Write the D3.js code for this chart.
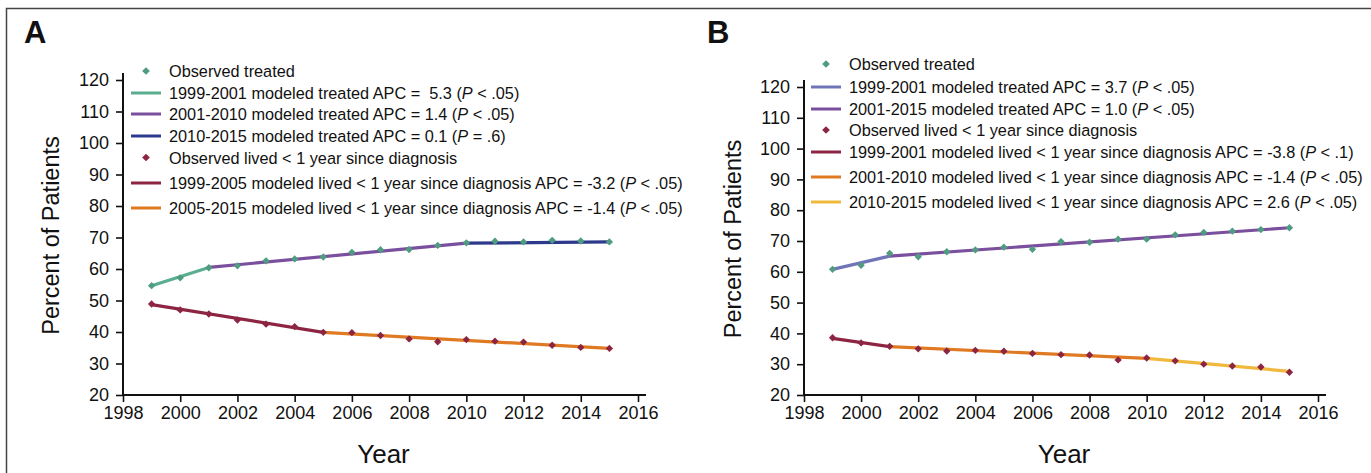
<!DOCTYPE html>
<html>
<head>
<meta charset="utf-8">
<script src="https://cdn.jsdelivr.net/npm/d3@7"></script>
<style>
  html, body { margin: 0; padding: 0; background: #fff; }
  svg { display: block; }
  text { font-family: "Liberation Sans", Arial, sans-serif; fill: #111; }
</style>
</head>
<body>
<svg id="chart" width="1371" height="473"></svg>
<script>
// ---------------- DATA ----------------
const years = [1999, 2000, 2001, 2002, 2003, 2004, 2005, 2006, 2007, 2008, 2009, 2010, 2011, 2012, 2013, 2014, 2015];
const xTicks = [1998, 2000, 2002, 2004, 2006, 2008, 2010, 2012, 2014, 2016];
const yTicks = [20, 30, 40, 50, 60, 70, 80, 90, 100, 110, 120];

// Panel A
const aTreated = [54.7, 57.2, 60.4, 61.0, 62.6, 63.2, 63.8, 65.3, 66.1, 66.2, 67.5, 68.3, 68.8, 68.6, 69.1, 68.9, 68.6];
const aLived   = [48.9, 47.0, 45.7, 43.8, 42.5, 41.7, 39.9, 39.8, 38.9, 37.8, 36.9, 37.6, 37.1, 36.8, 35.8, 35.1, 34.8];
const aTreatedJoinYears = [1999, 2001, 2010, 2015];
const aTreatedJoinVals  = [54.7, 60.5, 68.2, 68.6];
const aLivedJoinYears   = [1999, 2005, 2015];
const aLivedJoinVals    = [48.7, 39.9, 34.8];

// Panel B
const bTreated = [60.8, 62.1, 66.0, 64.9, 66.5, 67.1, 68.0, 67.3, 69.8, 69.6, 70.6, 70.6, 72.0, 72.8, 73.2, 73.7, 74.3];
const bLived   = [38.6, 36.9, 35.8, 35.0, 34.3, 34.5, 34.2, 33.5, 33.1, 33.0, 31.4, 32.0, 31.1, 30.0, 29.4, 29.1, 27.4];
const bTreatedJoinYears = [1999, 2001, 2015];
const bTreatedJoinVals  = [60.8, 65.1, 74.3];
const bLivedJoinYears   = [1999, 2001, 2010, 2015];
const bLivedJoinVals    = [38.4, 35.7, 31.9, 27.7];

// Legend labels: [prefix, italic, suffix]
const aLegend = [
  ["Observed treated"],
  ["1999-2001 modeled treated APC =\u00a0 5.3 (", "P", " < .05)"],
  ["2001-2010 modeled treated APC = 1.4 (", "P", " < .05)"],
  ["2010-2015 modeled treated APC = 0.1 (", "P", " = .6)"],
  ["Observed lived < 1 year since diagnosis"],
  ["1999-2005 modeled lived < 1 year since diagnosis APC = -3.2 (", "P", " < .05)"],
  ["2005-2015 modeled lived < 1 year since diagnosis APC = -1.4 (", "P", " < .05)"]
];
const bLegend = [
  ["Observed treated"],
  ["1999-2001 modeled treated APC = 3.7 (", "P", " < .05)"],
  ["2001-2015 modeled treated APC = 1.0 (", "P", " < .05)"],
  ["Observed lived < 1 year since diagnosis"],
  ["1999-2001 modeled lived < 1 year since diagnosis APC = -3.8 (", "P", " < .1)"],
  ["2001-2010 modeled lived < 1 year since diagnosis APC = -1.4 (", "P", " < .05)"],
  ["2010-2015 modeled lived < 1 year since diagnosis APC = 2.6 (", "P", " < .05)"]
];

// ---------------- STYLE ----------------
const C = {
  green: "#5aad8e", greenMark: "#4f9c80",
  purple: "#7a4f9e", navy: "#2d3a8c", lavender: "#7074b8",
  maroon: "#8c2442", orange: "#e07a22", yellow: "#f0b83c"
};

const svg = d3.select("#chart");

// outer frame
svg.append("path")
  .attr("d", "M6.5,473 V8.5 H1371")
  .attr("fill", "none").attr("stroke", "#444").attr("stroke-width", 1.5);

function panel(cfg) {
  const x = d3.scaleLinear().domain([1998, 2016]).range(cfg.xr);
  const y = d3.scaleLinear().domain([20, 120]).range(cfg.yr);
  const g = svg.append("g");

  // letter
  g.append("text").attr("x", cfg.letterX).attr("y", 43)
    .style("font-size", "31px").style("font-weight", "bold").text(cfg.letter);

  // axes
  const xAxis = d3.axisBottom(x).tickValues(xTicks).tickFormat(d3.format("d"))
    .tickSize(7).tickSizeOuter(0).tickPadding(4);
  const yAxis = d3.axisLeft(y).tickValues(yTicks).tickSize(7).tickSizeOuter(0).tickPadding(7);

  const gx = g.append("g").attr("transform", `translate(0,${cfg.yr[0]})`).call(xAxis);
  const gy = g.append("g").attr("transform", `translate(${cfg.xr[0]},0)`).call(yAxis);
  [gx, gy].forEach(a => {
    a.select(".domain").remove();
    a.selectAll("line").attr("stroke", "#111").attr("stroke-width", 1.6);
    a.selectAll("text").style("font-size", "18px").style("font-family", '"Liberation Sans", Arial, sans-serif').attr("fill", "#111");
  });
  // axis lines, slightly extended past the end ticks
  g.append("line").attr("x1", cfg.xr[0]).attr("x2", cfg.xr[1] + 8)
    .attr("y1", cfg.yr[0]).attr("y2", cfg.yr[0]).attr("stroke", "#111").attr("stroke-width", 2);
  g.append("line").attr("x1", cfg.xr[0]).attr("x2", cfg.xr[0])
    .attr("y1", cfg.yr[0] + 1).attr("y2", cfg.yr[1] - 7).attr("stroke", "#111").attr("stroke-width", 2);

  // axis titles
  g.append("text").attr("transform", `translate(${cfg.yTitleX},${(cfg.yr[0] + cfg.yr[1]) / 2 - 2}) rotate(-90)`)
    .attr("text-anchor", "middle").attr("dominant-baseline", "central")
    .style("font-size", "23.5px").text("Percent of Patients");
  g.append("text").attr("x", (cfg.xr[0] + cfg.xr[1]) / 2 + 3).attr("y", 463)
    .attr("text-anchor", "middle").style("font-size", "26px")
    .style("font-family", '"Liberation Sans Narrow", "Liberation Sans", Arial, sans-serif')
    .text("Year");

  // modeled segments
  const line = d3.line().x(d => x(d[0])).y(d => y(d[1]));
  function segments(joinYears, joinVals, colors) {
    for (let i = 0; i < joinYears.length - 1; i++) {
      g.append("path")
        .attr("d", line([[joinYears[i], joinVals[i]], [joinYears[i + 1], joinVals[i + 1]]]))
        .attr("fill", "none").attr("stroke", colors[i]).attr("stroke-width", 3.2)
        .attr("stroke-linecap", "butt");
    }
  }
  segments(cfg.tJoinY, cfg.tJoinV, cfg.tColors);
  segments(cfg.lJoinY, cfg.lJoinV, cfg.lColors);

  // observed markers
  const diamond = d3.symbol(d3.symbolSquare, 27);
  function markers(vals, color) {
    g.append("g").selectAll("path").data(years.map((yr, i) => [yr, vals[i]])).join("path")
      .attr("d", diamond)
      .attr("transform", d => `translate(${x(d[0])},${y(d[1])}) rotate(45)`)
      .attr("fill", color);
  }
  markers(cfg.treated, C.greenMark);
  markers(cfg.lived, C.maroon);

  // legend
  const lg = g.append("g");
  const legDiamond = d3.symbol(d3.symbolSquare, 30);
  cfg.legend.forEach((lab, i) => {
    const ry = cfg.legRows[i];
    const k = cfg.legKeys[i];
    if (k.type === "marker") {
      lg.append("path").attr("d", legDiamond)
        .attr("transform", `translate(${cfg.legX + 15},${ry}) rotate(45)`).attr("fill", k.color);
    } else {
      lg.append("line").attr("x1", cfg.legX).attr("x2", cfg.legX + 30)
        .attr("y1", ry).attr("y2", ry).attr("stroke", k.color).attr("stroke-width", 3);
    }
    const t = lg.append("text").attr("x", cfg.legX + 38).attr("y", ry)
      .attr("dominant-baseline", "central").style("font-size", "16.3px");
    t.append("tspan").text(lab[0]);
    if (lab.length > 1) {
      t.append("tspan").style("font-style", "italic").text(lab[1]);
      t.append("tspan").text(lab[2]);
    }
  });
}

panel({
  letter: "A", letterX: 24,
  xr: [123, 638], yr: [395, 80], yTitleX: 51,
  treated: aTreated, lived: aLived,
  tJoinY: aTreatedJoinYears, tJoinV: aTreatedJoinVals, tColors: [C.green, C.purple, C.navy],
  lJoinY: aLivedJoinYears, lJoinV: aLivedJoinVals, lColors: [C.maroon, C.orange],
  legend: aLegend, legX: 131,
  legRows: [71, 93, 114, 136, 157.5, 183, 208],
  legKeys: [
    { type: "marker", color: C.greenMark }, { type: "line", color: C.green },
    { type: "line", color: C.purple }, { type: "line", color: C.navy },
    { type: "marker", color: C.maroon }, { type: "line", color: C.maroon },
    { type: "line", color: C.orange }
  ]
});

panel({
  letter: "B", letterX: 707,
  xr: [804, 1318], yr: [395, 87], yTitleX: 733,
  treated: bTreated, lived: bLived,
  tJoinY: bTreatedJoinYears, tJoinV: bTreatedJoinVals, tColors: [C.lavender, C.purple],
  lJoinY: bLivedJoinYears, lJoinV: bLivedJoinVals, lColors: [C.maroon, C.orange, C.yellow],
  legend: bLegend, legX: 811,
  legRows: [64, 87, 109, 130, 152, 177, 202],
  legKeys: [
    { type: "marker", color: C.greenMark }, { type: "line", color: C.lavender },
    { type: "line", color: C.purple }, { type: "marker", color: C.maroon },
    { type: "line", color: C.maroon }, { type: "line", color: C.orange },
    { type: "line", color: C.yellow }
  ]
});
</script>
</body>
</html>
